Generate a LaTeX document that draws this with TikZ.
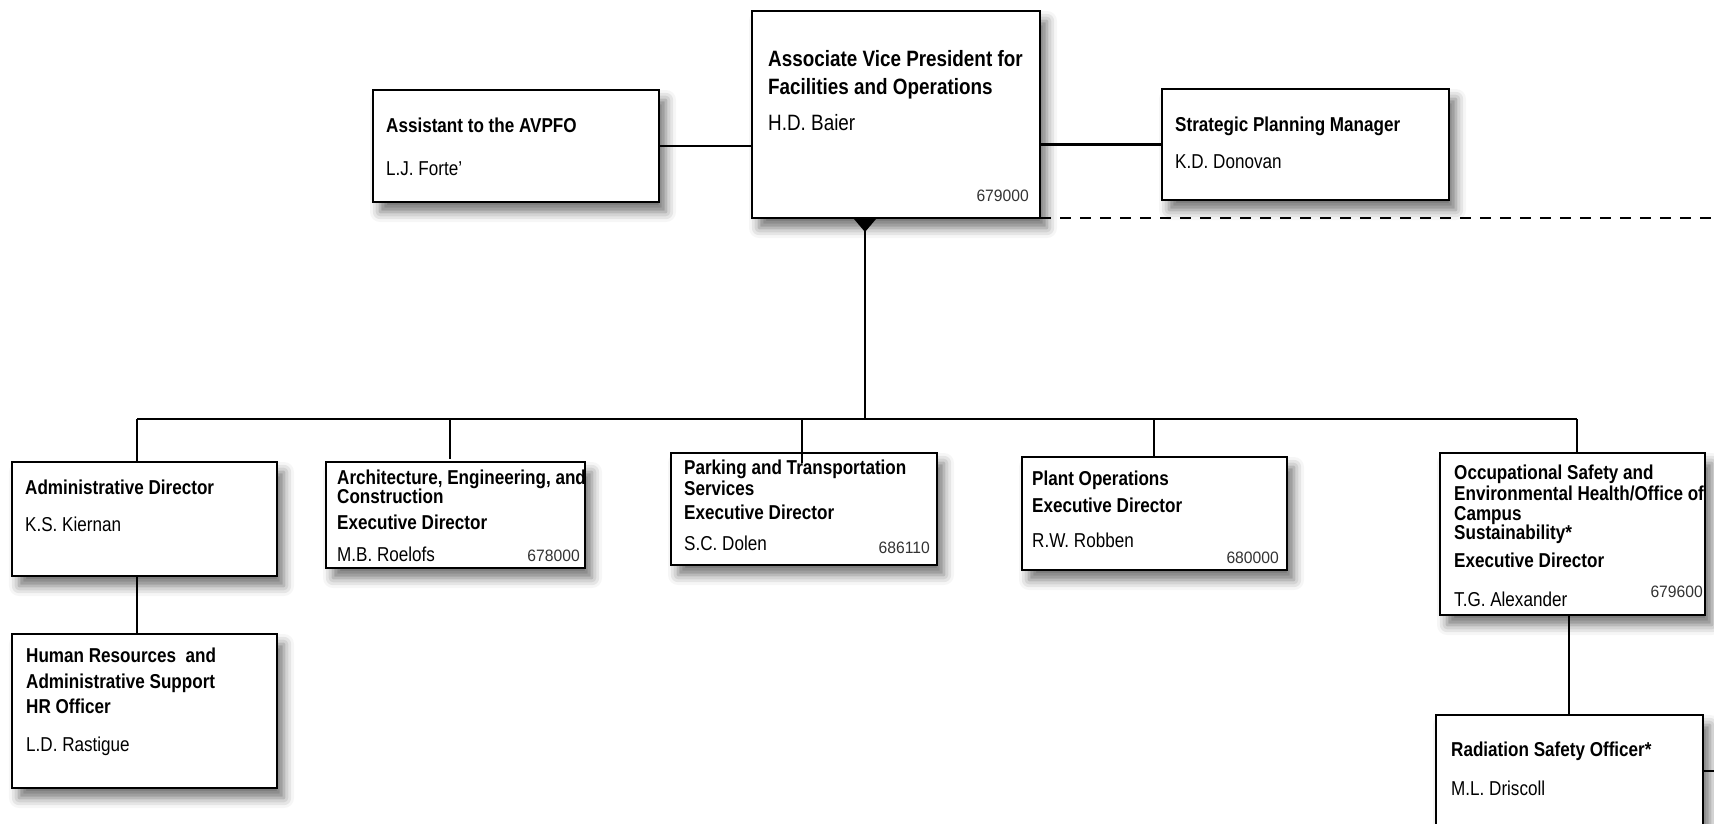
\documentclass[tikz,border=0pt]{standalone}
\usepackage{fontspec}
\setmainfont{Liberation Sans}[FakeStretch=0.85]
\newfontfamily\numfont{Liberation Sans}[FakeStretch=0.95]
\usetikzlibrary{shadows.blur}
\definecolor{numgray}{HTML}{333333}
\begin{document}
\begin{tikzpicture}[x=1pt,y=-1pt,
  box/.style={draw=black, line width=2.6pt, fill=white, rectangle, inner sep=0pt, outer sep=0pt, anchor=north west,
    blur shadow={shadow xshift=7pt, shadow yshift=-10pt, shadow blur radius=10pt, shadow opacity=55}},
  ttl/.style={anchor=base west, inner sep=0pt, font=\bfseries\fontsize{20.1}{20}\selectfont},
  bigttl/.style={anchor=base west, inner sep=0pt, font=\bfseries\fontsize{22.2}{22}\selectfont},
  nm/.style={anchor=base west, inner sep=0pt, font=\fontsize{20.1}{20}\selectfont},
  bignm/.style={anchor=base west, inner sep=0pt, font=\fontsize{22.2}{22}\selectfont},
  numtxt/.style={anchor=base east, inner sep=0pt, text=numgray, font=\numfont\fontsize{16.5}{16}\selectfont},
  conn/.style={draw=black, line width=2.9pt},
  dashconn/.style={draw=black, line width=2.9pt, dash pattern=on 11pt off 9pt}]
\useasboundingbox (0,0) rectangle (1714,823);

% boxes
\node[box, minimum width=288pt, minimum height=207pt] (avp) at (752,11) {};
\node[box, minimum width=286pt, minimum height=112pt] (asst) at (373,90) {};
\node[box, minimum width=287pt, minimum height=111pt] (strat) at (1162,89) {};
\node[box, minimum width=265pt, minimum height=114pt] (adm) at (12,462) {};
\node[box, minimum width=265pt, minimum height=154pt] (hr) at (12,634) {};
\node[box, minimum width=259pt, minimum height=106pt] (arch) at (326,462) {};
\node[box, minimum width=266pt, minimum height=112pt] (park) at (671,453) {};
\node[box, minimum width=265pt, minimum height=113pt] (plant) at (1022,457) {};
\node[box, minimum width=265pt, minimum height=162pt] (occ) at (1440,453) {};
\node[box, minimum width=267pt, minimum height=130pt] (rad) at (1436,715) {};

% coordinates
\coordinate (redge) at (1714,0);
\coordinate (tri) at (865,219);
\coordinate (busL) at (137,419);
\coordinate (busR) at (1577,419);
\coordinate (bA) at (450,419);
\coordinate (bP) at (802,419);
\coordinate (bPl) at (1154,419);
\coordinate (xr) at (1569,0);
\coordinate (stub) at (1714,771);

% connectors
\draw[conn] (asst.east) -- (asst.east -| avp.west);
\draw[conn] (avp.east |- strat.west) -- (strat.west);
\draw[dashconn] (avp.south east) -- (avp.south east -| redge);
\fill (tri) ++(-11,0) -- ++(22,0) -- ++(-11,13) -- cycle;
\draw[conn] (tri) -- (tri |- busL);
\draw[conn] (busL) -- (busR);
\draw[conn] (busL) -- (busL |- adm.north);
\draw[conn] (busL |- adm.south) -- (busL |- hr.north);
\draw[conn, shorten >=3pt] (bA) -- (bA |- arch.north);
\draw[conn, shorten >=-10pt] (bP) -- (bP |- park.north);
\draw[conn] (bPl) -- (bPl |- plant.north);
\draw[conn] (busR) -- (busR |- occ.north);
\draw[conn] (xr |- occ.south) -- (xr |- rad.north);
\draw[conn] (stub -| rad.east) -- (stub);

% texts
\node[bigttl] (avp1) at (768,66) {Associate Vice President for};
\node[bigttl] (avp2) at (768,94) {Facilities and Operations};
\node[bignm] (avp3) at (768,130) {H.D. Baier};
\node[numtxt] (avpn) at (1029,201) {679000};

\node[ttl] (asst1) at (386,132) {Assistant to the AVPFO};
\node[nm] (asst2) at (386,175) {L.J. Forte’};

\node[ttl] (strat1) at (1175,131) {Strategic Planning Manager};
\node[nm] (strat2) at (1175,168) {K.D. Donovan};

\node[ttl] (adm1) at (25,494) {Administrative Director};
\node[nm] (adm2) at (25,531) {K.S. Kiernan};

\node[ttl] (hr1) at (26,662) {Human Resources\ \ and};
\node[ttl] (hr2) at (26,688) {Administrative Support};
\node[ttl] (hr3) at (26,713) {HR Officer};
\node[nm] (hr4) at (26,751) {L.D. Rastigue};

\node[ttl] (arch1) at (337,484) {Architecture, Engineering, and};
\node[ttl] (arch2) at (337,503) {Construction};
\node[ttl] (arch3) at (337,529) {Executive Director};
\node[nm] (arch4) at (337,561) {M.B. Roelofs};
\node[numtxt] (archn) at (580,561) {678000};

\node[ttl] (park1) at (684,474) {Parking and Transportation};
\node[ttl] (park2) at (684,495) {Services};
\node[ttl] (park3) at (684,519) {Executive Director};
\node[nm] (park4) at (684,550) {S.C. Dolen};
\node[numtxt] (parkn) at (930,553) {686110};

\node[ttl] (plant1) at (1032,485) {Plant Operations};
\node[ttl] (plant2) at (1032,512) {Executive Director};
\node[nm] (plant3) at (1032,547) {R.W. Robben};
\node[numtxt] (plantn) at (1279,563) {680000};

\node[ttl] (occ1) at (1454,479) {Occupational Safety and};
\node[ttl] (occ2) at (1454,500) {Environmental Health/Office of};
\node[ttl] (occ3) at (1454,520) {Campus};
\node[ttl] (occ4) at (1454,539) {Sustainability*};
\node[ttl] (occ5) at (1454,567) {Executive Director};
\node[nm] (occ6) at (1454,606) {T.G. Alexander};
\node[numtxt] (occn) at (1703,597) {679600};

\node[ttl] (rad1) at (1451,756) {Radiation Safety Officer*};
\node[nm] (rad2) at (1451,795) {M.L. Driscoll};
\end{tikzpicture}
\end{document}
